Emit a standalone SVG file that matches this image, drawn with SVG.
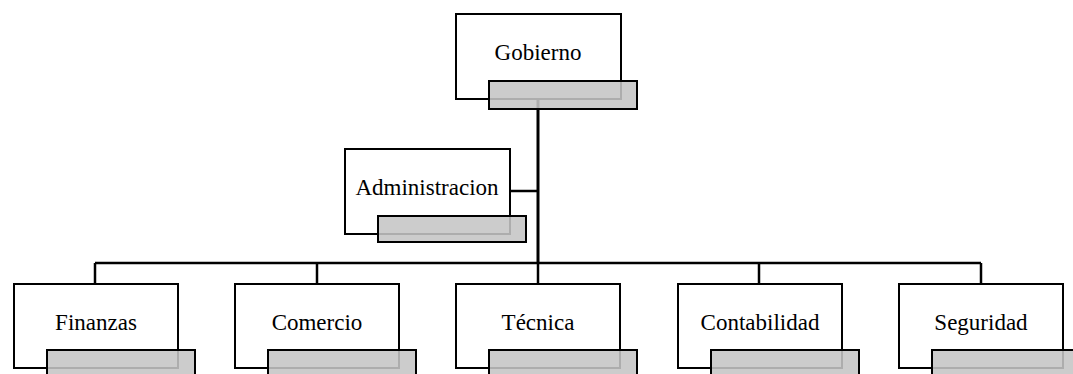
<svg xmlns="http://www.w3.org/2000/svg" width="1073" height="374" viewBox="0 0 1073 374">
<style>
.box{fill:#ffffff;stroke:#000;stroke-width:2}
.sh{fill:#c5c5c5;fill-opacity:0.88;stroke:#000;stroke-width:2}
.ln{fill:none;stroke:#000;stroke-width:2.5}
.trunk{fill:none;stroke:#000;stroke-width:3}
text{font-family:'Liberation Serif','Times New Roman',serif;font-size:23px;fill:#000;text-anchor:middle}
</style>
<rect width="1073" height="374" fill="#ffffff"/>
<g id="connectors">
<line class="trunk" x1="538" y1="99" x2="538" y2="264"/>
<line class="ln" x1="510" y1="191" x2="538" y2="191"/>
<line class="ln" x1="95" y1="263" x2="981" y2="263"/>
<line class="ln" x1="95" y1="263" x2="95" y2="284"/>
<line class="ln" x1="317" y1="263" x2="317" y2="284"/>
<line class="ln" x1="538" y1="263" x2="538" y2="284"/>
<line class="ln" x1="759" y1="263" x2="759" y2="284"/>
<line class="ln" x1="981" y1="263" x2="981" y2="284"/>
</g>
<g id="gobierno">
<rect class="box" x="456" y="14" width="165" height="85"/>
<rect class="sh" x="489" y="81" width="148" height="28"/>
<text x="538" y="60">Gobierno</text>
</g>
<g id="administracion">
<rect class="box" x="345" y="149" width="165" height="85"/>
<rect class="sh" x="378" y="216" width="148" height="26"/>
<text x="427" y="195">Administracion</text>
</g>
<g id="finanzas">
<rect class="box" x="14" y="284" width="164" height="84"/>
<rect class="sh" x="47" y="350" width="148" height="30"/>
<text x="96" y="330">Finanzas</text>
</g>
<g id="comercio">
<rect class="box" x="235" y="284" width="164" height="84"/>
<rect class="sh" x="268" y="350" width="148" height="30"/>
<text x="317" y="330">Comercio</text>
</g>
<g id="tecnica">
<rect class="box" x="456" y="284" width="164" height="84"/>
<rect class="sh" x="489" y="350" width="148" height="30"/>
<text x="538" y="330">Técnica</text>
</g>
<g id="contabilidad">
<rect class="box" x="678" y="284" width="164" height="84"/>
<rect class="sh" x="711" y="350" width="148" height="30"/>
<text x="760" y="330">Contabilidad</text>
</g>
<g id="seguridad">
<rect class="box" x="899" y="284" width="164" height="84"/>
<rect class="sh" x="932" y="350" width="148" height="30"/>
<text x="981" y="330">Seguridad</text>
</g>
</svg>
